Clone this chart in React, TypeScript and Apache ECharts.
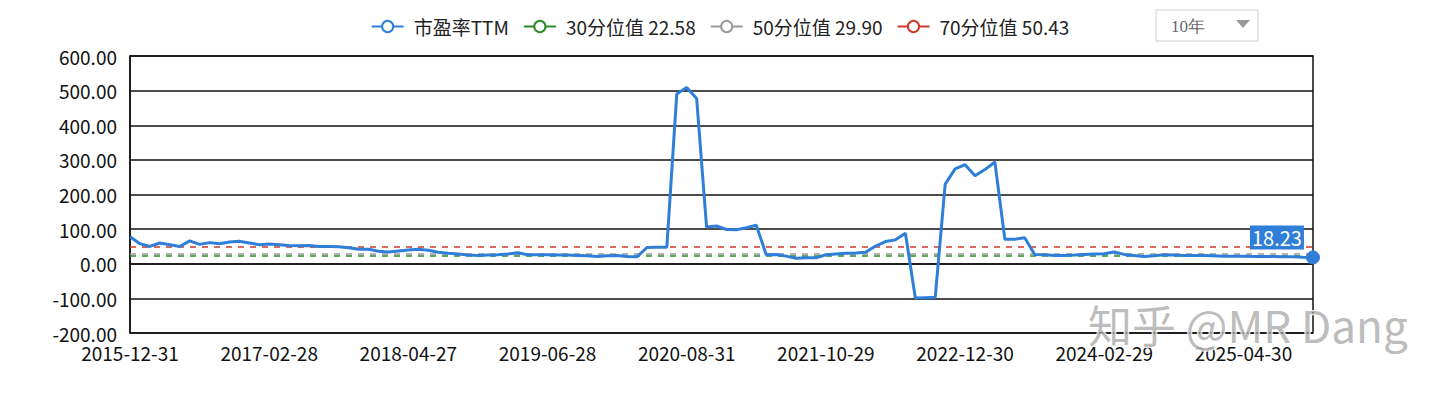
import React, { useEffect, useRef } from "react";
import * as echarts from "echarts";

const dates: string[] = [
  "2015-12-31",
  "2016-01-29", "2016-02-29", "2016-03-31", "2016-04-29", "2016-05-31", "2016-06-30",
  "2016-07-29", "2016-08-31", "2016-09-30", "2016-10-31", "2016-11-30", "2016-12-30",
  "2017-01-26", "2017-02-28", "2017-03-31", "2017-04-28", "2017-05-31", "2017-06-30",
  "2017-07-31", "2017-08-31", "2017-09-29", "2017-10-31", "2017-11-30", "2017-12-29",
  "2018-01-31", "2018-02-28", "2018-03-30", "2018-04-27", "2018-05-31", "2018-06-29",
  "2018-07-31", "2018-08-31", "2018-09-28", "2018-10-31", "2018-11-30", "2018-12-28",
  "2019-01-31", "2019-02-28", "2019-03-29", "2019-04-30", "2019-05-31", "2019-06-28",
  "2019-07-31", "2019-08-30", "2019-09-30", "2019-10-31", "2019-11-29", "2019-12-31",
  "2020-01-23", "2020-02-28", "2020-03-31", "2020-04-30", "2020-05-29", "2020-06-30",
  "2020-07-31", "2020-08-31", "2020-09-30", "2020-10-30", "2020-11-30", "2020-12-31",
  "2021-01-29", "2021-02-26", "2021-03-31", "2021-04-30", "2021-05-31", "2021-06-30",
  "2021-07-30", "2021-08-31", "2021-09-30", "2021-10-29", "2021-11-30", "2021-12-31",
  "2022-01-28", "2022-02-28", "2022-03-31", "2022-04-29", "2022-05-31", "2022-06-30",
  "2022-07-29", "2022-08-31", "2022-09-30", "2022-10-31", "2022-11-30", "2022-12-30",
  "2023-01-31", "2023-02-28", "2023-03-31", "2023-04-28", "2023-05-31", "2023-06-30",
  "2023-07-31", "2023-08-31", "2023-09-28", "2023-10-31", "2023-11-30", "2023-12-29",
  "2024-01-31", "2024-02-29", "2024-03-29", "2024-04-30", "2024-05-31", "2024-06-28",
  "2024-07-31", "2024-08-30", "2024-09-30", "2024-10-31", "2024-11-29", "2024-12-31",
  "2025-01-27", "2025-02-28", "2025-03-31", "2025-04-30", "2025-05-30", "2025-06-30",
  "2025-07-31", "2025-08-29", "2025-09-30", "2025-10-31", "2025-11-28",
];

const peTTM: number[] = [
  78, 58, 50, 60, 55, 50, 66, 56, 61, 58,
  63, 65, 60, 55, 57, 55, 53, 52, 53, 50,
  50, 49, 46, 42, 42, 36, 34, 37, 40, 42,
  39, 33, 30, 28, 25, 24, 25, 26, 28, 32,
  26, 26, 26, 25, 25, 24, 23, 21, 23, 24,
  21, 20, 47, 48, 48, 490, 509, 477, 106, 109,
  99, 98, 104, 111, 26, 27, 22, 16, 17, 17,
  26, 28, 30, 31, 33, 51, 64, 69, 88, -99,
  -98, -97, 230, 274, 286, 254, 272, 294, 71, 71,
  75, 27, 26, 24, 24, 25, 27, 28, 29, 34,
  27, 24, 21, 23, 26, 25, 24, 24, 24, 23,
  22, 22, 22, 21, 21, 21, 20, 20, 19, 18.23,
];

const percentileNames: string[] = ["30分位值", "50分位值", "70分位值"];
const percentileValues: number[] = [22.58, 29.9, 50.43];
const percentileColors: string[] = ["#2a8a2a", "#9a9a9a", "#cc3a2a"];

const mainName = "市盈率TTM";
const mainColor = "#2f7fd8";
const rangeLabel = "10年";
const watermark = "知乎 @MR Dang";

const FONT = "'Noto Sans CJK SC', 'Noto Sans', sans-serif";

export default function App() {
  const ref = useRef<HTMLDivElement>(null);

  useEffect(() => {
    if (!ref.current) return;
    const chart = echarts.init(ref.current, null, { renderer: "svg" });
    const last = peTTM.length - 1;

    const mainData = peTTM.map((v, i) =>
      i === last
        ? {
            value: v,
            symbol: "circle",
            symbolSize: 13,
            itemStyle: { color: mainColor, borderColor: mainColor },
            label: {
              show: true,
              position: [-56, -25],
              formatter: () => v.toFixed(2),
              color: "#fff",
              fontSize: 20,
              fontFamily: FONT,
              backgroundColor: mainColor,
              padding: [0, 2],
              lineHeight: 24,
            },
          }
        : { value: v, symbolSize: 0 }
    );

    const percentileSeries = percentileNames.map((n, k) => ({
      name: `${n} ${percentileValues[k].toFixed(2)}`,
      type: "line",
      data: [],
      symbol: "emptyCircle",
      itemStyle: { color: percentileColors[k] },
      lineStyle: { color: percentileColors[k] },
      markLine: {
        silent: true,
        symbol: ["none", "none"],
        label: { show: false },
        lineStyle: { color: percentileColors[k], type: [6, 6], width: 1.5 },
        data: [{ yAxis: percentileValues[k] }],
      },
    }));

    chart.setOption({
      animation: false,
      backgroundColor: "#fff",
      textStyle: { fontFamily: FONT },
      legend: {
        top: 12,
        left: "center",
        itemWidth: 32,
        itemHeight: 14,
        itemGap: 14,
        textStyle: {
          fontSize: 19,
          color: "#222",
          fontFamily: FONT,
          padding: [0, 0, 0, 5],
        },
        data: [mainName, ...percentileSeries.map((s) => s.name)],
      },
      grid: {
        left: 130,
        right: 127,
        top: 56,
        bottom: 63,
        show: true,
        borderColor: "#111",
        borderWidth: 1.5,
        backgroundColor: "transparent",
      },
      xAxis: {
        type: "category",
        data: dates,
        boundaryGap: false,
        axisLine: { show: true, lineStyle: { color: "#111", width: 1.5 } },
        axisTick: { show: false },
        splitLine: { show: false },
        axisLabel: {
          interval: 13,
          color: "#111",
          fontSize: 19,
          fontFamily: FONT,
          margin: 10,
        },
      },
      yAxis: {
        type: "value",
        min: -200,
        max: 600,
        interval: 100,
        axisLine: { show: true, lineStyle: { color: "#111", width: 1.5 } },
        axisTick: { show: false },
        splitLine: { show: true, lineStyle: { color: "#111", width: 1.5 } },
        axisLabel: {
          color: "#111",
          fontSize: 19,
          fontFamily: FONT,
          margin: 13,
          formatter: (v: number) => v.toFixed(2),
        },
      },
      series: [
        {
          name: mainName,
          type: "line",
          data: mainData,
          symbol: "emptyCircle",
          showSymbol: true,
          showAllSymbol: true,
          z: 5,
          itemStyle: { color: mainColor },
          lineStyle: { color: mainColor, width: 3 },
        },
        ...percentileSeries,
      ],
      graphic: [
        {
          type: "rect",
          shape: { x: 1156, y: 10, width: 102, height: 31 },
          style: { fill: "#fff", stroke: "#d0d0d0", lineWidth: 1 },
        },
        {
          type: "text",
          x: 1171,
          y: 26,
          style: {
            text: rangeLabel,
            fill: "#666",
            fontSize: 17,
            fontFamily: "'Liberation Serif', 'DejaVu Serif', serif",
            verticalAlign: "middle",
          },
        },
        {
          type: "polygon",
          shape: { points: [[1236, 20], [1250, 20], [1243, 28]] },
          style: { fill: "#999" },
        },
        {
          type: "text",
          x: 1088,
          y: 302,
          z: 100,
          style: {
            text: watermark,
            fill: "rgba(160,160,160,0.7)",
            stroke: "rgba(255,255,255,0.9)",
            lineWidth: 2,
            fontSize: 44,
            fontFamily: FONT,
          },
        },
      ],
    });

    return () => chart.dispose();
  }, []);

  return (
    <div
      ref={ref}
      style={{ position: "fixed", left: 0, top: 0, width: 1440, height: 396 }}
    />
  );
}
